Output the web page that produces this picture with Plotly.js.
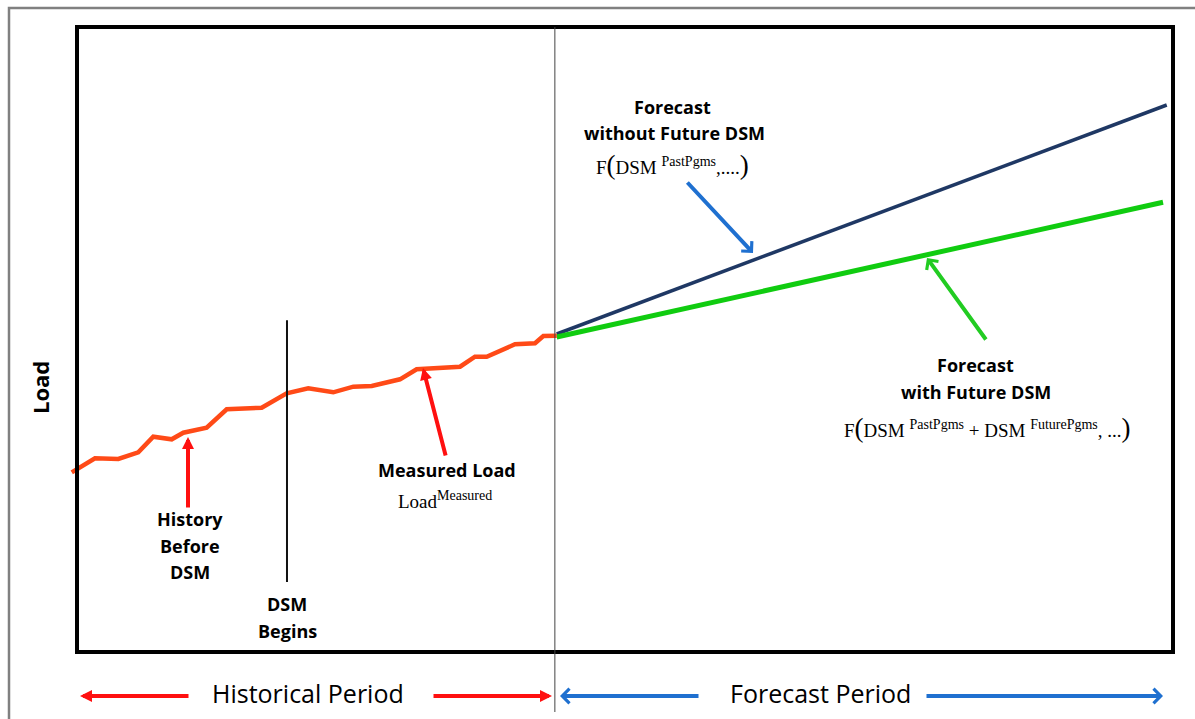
<!DOCTYPE html>
<html><head><meta charset="utf-8">
<script src="https://cdn.plot.ly/plotly-3.0.1.min.js"></script>
<style>html,body{margin:0;padding:0;background:#fff;overflow:hidden}</style>
</head><body><div id="chart" style="width:1195px;height:719px"></div>
<script>
// Historical measured load (time index, load index)
const histTime = [-0.48, 1.64, 3.77, 5.59, 6.96, 8.64, 9.70, 11.83, 13.66, 16.85, 19.13, 21.10, 23.38, 25.21, 26.89, 29.47, 30.99, 34.95, 36.31, 37.38, 39.96, 41.79, 42.55, 43.77];
const histLoad = [28.75, 31.0, 30.9, 31.95, 34.45, 34.03, 35.09, 35.89, 38.83, 39.09, 41.39, 42.19, 41.55, 42.45, 42.56, 43.63, 45.23, 45.65, 47.25, 47.25, 49.23, 49.39, 50.56, 50.61];
// Forecasts
const fcTimeNoDSM = [43.77, 99.43];
const fcLoadNoDSM = [50.88, 87.52];
const fcTimeWithDSM = [43.77, 99.09];
const fcLoadWithDSM = [50.40, 71.95];
// Markers of time
const dsmStartTime = 19.16;
const forecastStartTime = 43.6;

const W = 1195, H = 719;
const P = (px, py) => ({x: px / W, y: 1 - py / H});

const traces = [
  {x: fcTimeNoDSM, y: fcLoadNoDSM, mode: 'lines', line: {color: '#1f3864', width: 3.5}, hoverinfo: 'skip'},
  {x: fcTimeWithDSM, y: fcLoadWithDSM, mode: 'lines', line: {color: '#10cc10', width: 5}, hoverinfo: 'skip'},
  {x: histTime, y: histLoad, mode: 'lines', line: {color: '#ff4a17', width: 4.5}, hoverinfo: 'skip'}
];

const lab = 'Open Sans';
function txt(px, py, text, size, family, extra) {
  const p = P(px, py);
  return Object.assign({xref: 'paper', yref: 'paper', x: p.x, y: p.y, xanchor: 'center', yanchor: 'middle',
    text: text, showarrow: false, font: {family: family, size: size, color: '#000'}}, extra || {});
}
function arrow(tipx, tipy, tailx, taily, color, width, head, size) {
  const p = P(tipx, tipy);
  return {xref: 'paper', yref: 'paper', x: p.x, y: p.y, ax: tailx - tipx, ay: taily - tipy,
    axref: 'pixel', ayref: 'pixel', text: '', showarrow: true, arrowcolor: color,
    arrowwidth: width, arrowhead: head, arrowsize: size, standoff: 0, startstandoff: 0};
}
const serif = 'Liberation Serif';
const sup = s => '<sup><span style="font-size:14px">' + s + '</span></sup>';
const bigp = c => '<span style="font-size:27px">' + c + '</span>';

const annotations = [
  txt(673, 107, '<b>Forecast</b>', 18, lab),
  txt(674, 133, '<b>without Future DSM</b>', 18, lab),
  txt(673, 165, 'F' + bigp('(') + 'DSM ' + sup('PastPgms') + ',....' + bigp(')'), 19, serif),
  txt(975, 365, '<b>Forecast</b>', 18, lab),
  txt(976, 392, '<b>with Future DSM</b>', 18, lab),
  txt(987, 428, 'F' + bigp('(') + 'DSM ' + sup('PastPgms') + ' + DSM ' + sup('FuturePgms') + ', ...' + bigp(')'), 19, serif),
  txt(447, 470, '<b>Measured Load</b>', 18, lab),
  txt(445, 500, 'Load' + sup('Measured'), 19, serif),
  txt(190, 519, '<b>History</b>', 18, lab),
  txt(190, 546, '<b>Before</b>', 18, lab),
  txt(190, 572, '<b>DSM</b>', 18, lab),
  txt(287, 604, '<b>DSM</b>', 18, lab),
  txt(287, 631, '<b>Begins</b>', 18, lab),
  txt(40, 388, '<b>Load</b>', 22, lab, {textangle: -90}),
  txt(308, 693, 'Historical Period', 25, lab),
  txt(820, 693, 'Forecast Period', 25, lab),
  arrow(188, 437, 188, 509, '#ff1010', 4, 2, 0.6),
  arrow(423, 368, 446, 457, '#ff1010', 4, 2, 0.6),
  arrow(753, 253, 686, 181, '#1f70d0', 4, 4, 0.7),
  arrow(927, 258, 987, 341, '#22cc22', 4, 4, 0.7),
  arrow(80, 696, 190, 696, '#ff1010', 4, 2, 0.6),
  arrow(552, 696, 432, 696, '#ff1010', 4, 2, 0.6),
  arrow(560, 696, 700, 696, '#1f70d0', 4, 4, 0.7),
  arrow(1163, 696, 925, 696, '#1f70d0', 4, 4, 0.7)
];

const shapes = [
  {type: 'rect', xref: 'paper', yref: 'paper', x0: 9 / W, x1: 1.05, y0: -0.05, y1: 1 - 8 / H,
   line: {color: '#808080', width: 2.5}, layer: 'below'},
  {type: 'rect', xref: 'x', yref: 'y', x0: 0, x1: 100, y0: 0, y1: 100, line: {color: '#000', width: 4}, layer: 'above'},
  {type: 'line', xref: 'x', yref: 'y', x0: dsmStartTime, x1: dsmStartTime, y0: 11.2, y1: 53.1, line: {color: '#111', width: 2}, layer: 'above'},
  {type: 'line', xref: 'x', yref: 'y', x0: forecastStartTime, x1: forecastStartTime, y0: -9.6, y1: 100, line: {color: '#444', width: 1}, layer: 'above'}
];

const layout = {
  width: W, height: H, autosize: false,
  margin: {l: 0, r: 0, t: 0, b: 0, pad: 0},
  paper_bgcolor: '#fff', plot_bgcolor: '#fff',
  showlegend: false,
  xaxis: {range: [-77 / 10.96, (W - 77) / 10.96], visible: false, fixedrange: true},
  yaxis: {range: [(652 - H) / 6.25, 652 / 6.25], visible: false, fixedrange: true},
  shapes: shapes,
  annotations: annotations
};
Plotly.newPlot('chart', traces, layout, {displayModeBar: false, staticPlot: true});
</script></body></html>
